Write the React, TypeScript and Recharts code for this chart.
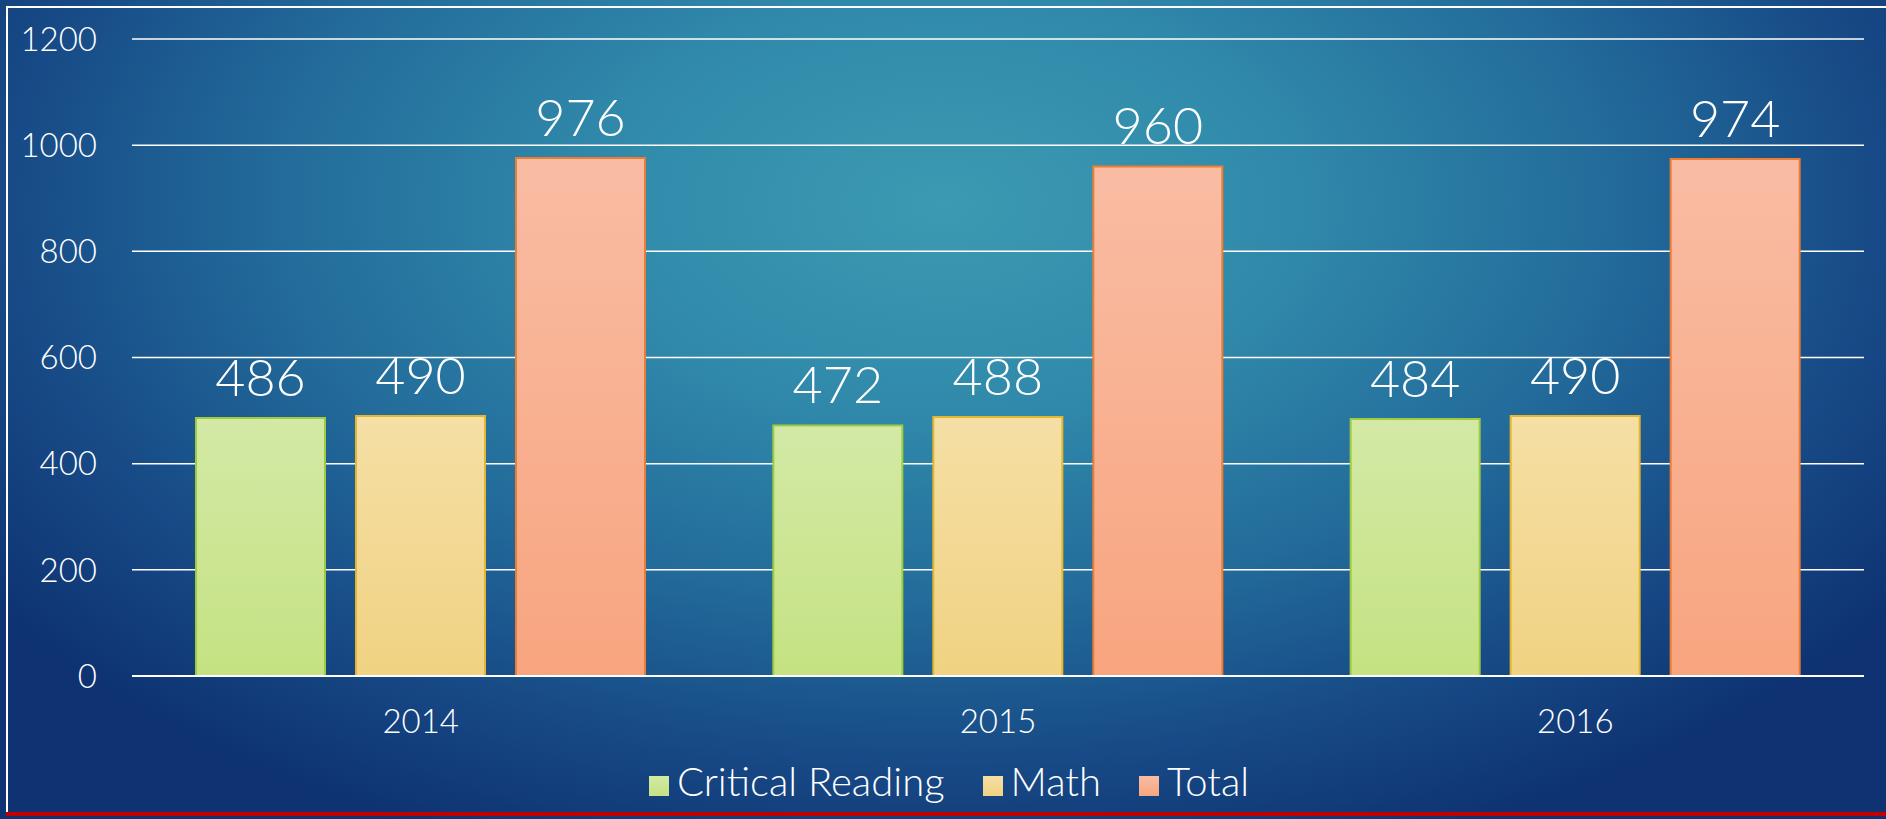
import React from 'react';
import { BarChart, Bar, XAxis, YAxis, CartesianGrid, Legend, LabelList } from 'recharts';

const years = ['2014', '2015', '2016'];
const criticalReading = [486, 472, 484];
const math = [490, 488, 490];
const total = [976, 960, 974];
const yTicks = [0, 200, 400, 600, 800, 1000, 1200];

const data = years.map((y, i) => ({
  year: y,
  cr: criticalReading[i],
  math: math[i],
  total: total[i],
}));

const FONT = 'Lato, "Open Sans", "DejaVu Sans", sans-serif';

export default function App() {
  return (
    <div
      style={{
        position: 'absolute',
        left: 0,
        top: 0,
        width: 1886,
        height: 819,
        overflow: 'hidden',
        background:
          'radial-gradient(ellipse 62% 85% at 50% 25%, #3c9ab2 0%, #3089aa 30%, #226a9a 58%, #174a86 80%, #0e3272 100%)',
        fontFamily: FONT,
      }}
    >
      <div style={{ position: 'absolute', left: 6, top: 6, width: 1880, height: 2, background: '#ffffff' }} />
      <div style={{ position: 'absolute', left: 6, top: 6, width: 2, height: 806, background: '#ffffff' }} />
      <div style={{ position: 'absolute', left: 6, top: 812, width: 1880, height: 4, background: '#c00000' }} />
      <BarChart
        width={1886}
        height={819}
        data={data}
        margin={{ top: 39, right: 22, left: 0, bottom: 37 }}
        barCategoryGap={64}
        barGap={31}
        style={{ position: 'absolute', left: 0, top: 0 }}
      >
        <defs>
          <linearGradient id="gGreen" x1="0" y1="0" x2="0" y2="1">
            <stop offset="0%" stopColor="#d3e9a6" />
            <stop offset="100%" stopColor="#c5e282" />
          </linearGradient>
          <linearGradient id="gYellow" x1="0" y1="0" x2="0" y2="1">
            <stop offset="0%" stopColor="#f5dfa5" />
            <stop offset="100%" stopColor="#f0d282" />
          </linearGradient>
          <linearGradient id="gOrange" x1="0" y1="0" x2="0" y2="1">
            <stop offset="0%" stopColor="#f9bca3" />
            <stop offset="100%" stopColor="#f8a57f" />
          </linearGradient>
        </defs>
        <CartesianGrid vertical={false} stroke="#ffffff" strokeWidth={1.5} />
        <XAxis
          dataKey="year"
          axisLine={{ stroke: '#ffffff', strokeWidth: 2 }}
          tickLine={false}
          tickMargin={28}
          height={60}
          tick={{ fill: '#ffffff', fontSize: 33, fontFamily: FONT, fontWeight: 300 }}
        />
        <YAxis
          domain={[0, 1200]}
          ticks={yTicks}
          width={132}
          axisLine={false}
          tickLine={false}
          tickMargin={29}
          tick={{ fill: '#ffffff', fontSize: 33, fontFamily: FONT, fontWeight: 300 }}
        />
        <Legend
          verticalAlign="bottom"
          align="center"
          iconType="square"
          iconSize={20}
          wrapperStyle={{ left: 36, bottom: 15, fontSize: 40, lineHeight: '46px', fontFamily: FONT, fontWeight: 300, color: '#ffffff' }}
          formatter={(value: string) => (
            <span style={{ color: '#ffffff', marginLeft: 4, marginRight: 28 }}>{value}</span>
          )}
        />
        <Bar dataKey="cr" name="Critical Reading" fill="url(#gGreen)" stroke="#9fcc3f" strokeWidth={2} isAnimationActive={false}>
          <LabelList dataKey="cr" position="top" offset={22} fill="#ffffff" fontSize={52} fontFamily={FONT} fontWeight={300} />
        </Bar>
        <Bar dataKey="math" name="Math" fill="url(#gYellow)" stroke="#e6b62e" strokeWidth={2} isAnimationActive={false}>
          <LabelList dataKey="math" position="top" offset={22} fill="#ffffff" fontSize={52} fontFamily={FONT} fontWeight={300} />
        </Bar>
        <Bar dataKey="total" name="Total" fill="url(#gOrange)" stroke="#ec7d33" strokeWidth={2} isAnimationActive={false}>
          <LabelList dataKey="total" position="top" offset={22} fill="#ffffff" fontSize={52} fontFamily={FONT} fontWeight={300} />
        </Bar>
      </BarChart>
    </div>
  );
}
